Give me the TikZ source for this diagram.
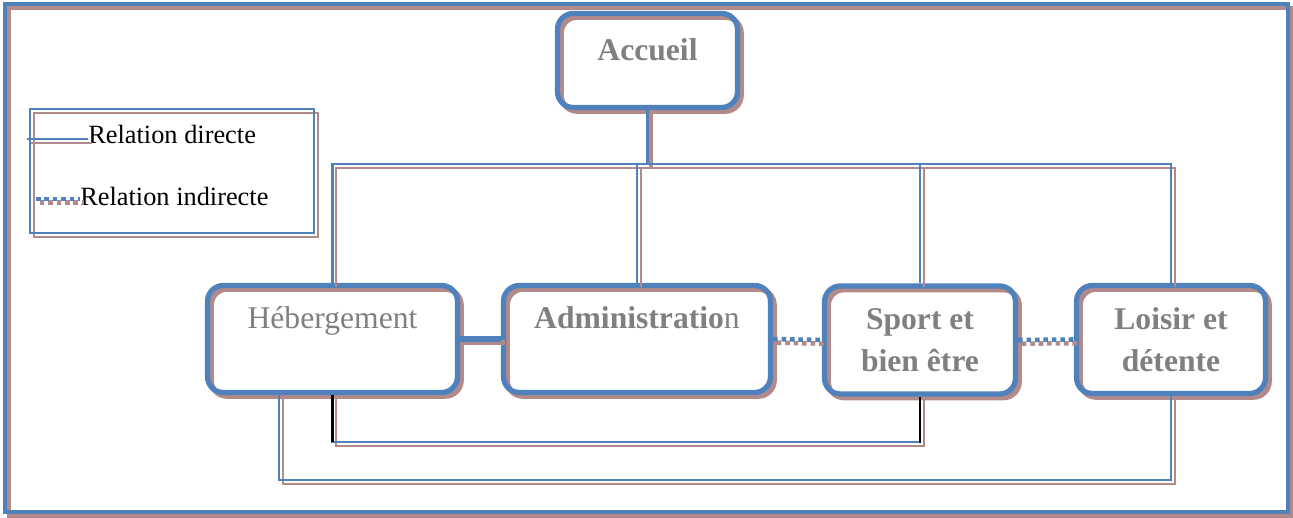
\documentclass[tikz,border=0pt]{standalone}
\usepackage{fontspec}
\setmainfont{Liberation Serif}
\usepackage{xcolor}
\usepackage{tikz}
\usetikzlibrary{calc}
\definecolor{bleu}{RGB}{79,129,189}
\definecolor{brun}{RGB}{178,138,138}
\definecolor{gristxt}{RGB}{128,128,128}

\begin{document}
\begin{tikzpicture}[x=0.02cm, y=-0.02cm,
  ombre/.style={preaction={draw=brun, line width=#1, solid, transform canvas={shift={(2.1pt,-2.1pt)}}}},
  lien/.style={draw=bleu, line width=1.2pt, ombre=1.2pt},
  lienepais/.style={draw=bleu, line width=3pt, ombre=3pt},
  lienind/.style={draw=bleu, line width=2.6pt, dash pattern=on 2.6pt off 2.2pt,
    preaction={draw=brun, line width=2.6pt, dash pattern=on 2.6pt off 2.2pt, transform canvas={shift={(2.1pt,-2.1pt)}}}},
  noir/.style={draw=black, line width=1.2pt},
  boite/.style={draw=bleu, line width=3pt, rounded corners=9pt, ombre=3pt, text=gristxt, align=center, inner sep=0pt, font=\fontsize{18}{24}\selectfont},
  legende/.style={anchor=base west, inner sep=0pt, font=\fontsize{15}{18}\selectfont}]
\useasboundingbox (0,0) rectangle (1293,517);
\draw[draw=bleu, line width=2.4pt, ombre=2.4pt] (5,4) rectangle (1288,512);

\node[boite, minimum width=3.6cm, minimum height=1.88cm] (acc) at (647.5,60.5) {\textbf{Accueil}\\[-11pt]\mbox{}};
\node[boite, minimum width=5cm, minimum height=2.14cm] (heb) at (332.5,339) {Hébergement\\\mbox{}};
\node[boite, minimum width=5.34cm, minimum height=2.14cm] (adm) at (637,339) {\textbf{Administratio}n\\\mbox{}};
\node[boite, minimum width=3.82cm, minimum height=2.16cm] (spo) at (920,340) {\textbf{Sport et}\\\textbf{bien être}};
\node[boite, minimum width=3.78cm, minimum height=2.16cm] (loi) at (1171,339.5) {\textbf{Loisir et}\\\textbf{détente}};

\node[lien, minimum width=5.68cm, minimum height=2.48cm, inner sep=0pt] (leg) at (172,171) {};
\node[legende] (rdir) at (88,143) {Relation directe};
\node[legende] (rind) at (80,205) {Relation indirecte};
\coordinate (d0) at (27,139);
\coordinate (i0) at (36,199);
\draw[lien] (d0) -- (d0 -| rdir.west);
\draw[lienind] (i0) -- (i0 -| rind.west);

\coordinate (bus) at (650,164);
\draw[draw=bleu, line width=2.2pt, ombre=2.2pt] (acc.south) -- (acc.south |- bus);
\draw[lien] (heb.north) -- (heb.north |- bus) -- (loi.north |- bus) -- (loi.north);
\draw[lien] (adm.north) -- (adm.north |- bus);
\draw[lien] (spo.north) -- (spo.north |- bus);

\draw[lienepais] (heb.east) -- (adm.west);
\draw[lienind] (adm.east) -- (spo.west);
\draw[lienind] (spo.east) -- (loi.west);

\draw[lien] (heb.south) -- ++(0,47) -| (spo.south);
\draw[noir] (heb.south) -- ++(0,47);
\draw[noir] (spo.south) -- ++(0,46);
\draw[lien] ($(heb.south west)+(74,0)$) -- ++(0,85) -| (loi.south);
\end{tikzpicture}
\end{document}
